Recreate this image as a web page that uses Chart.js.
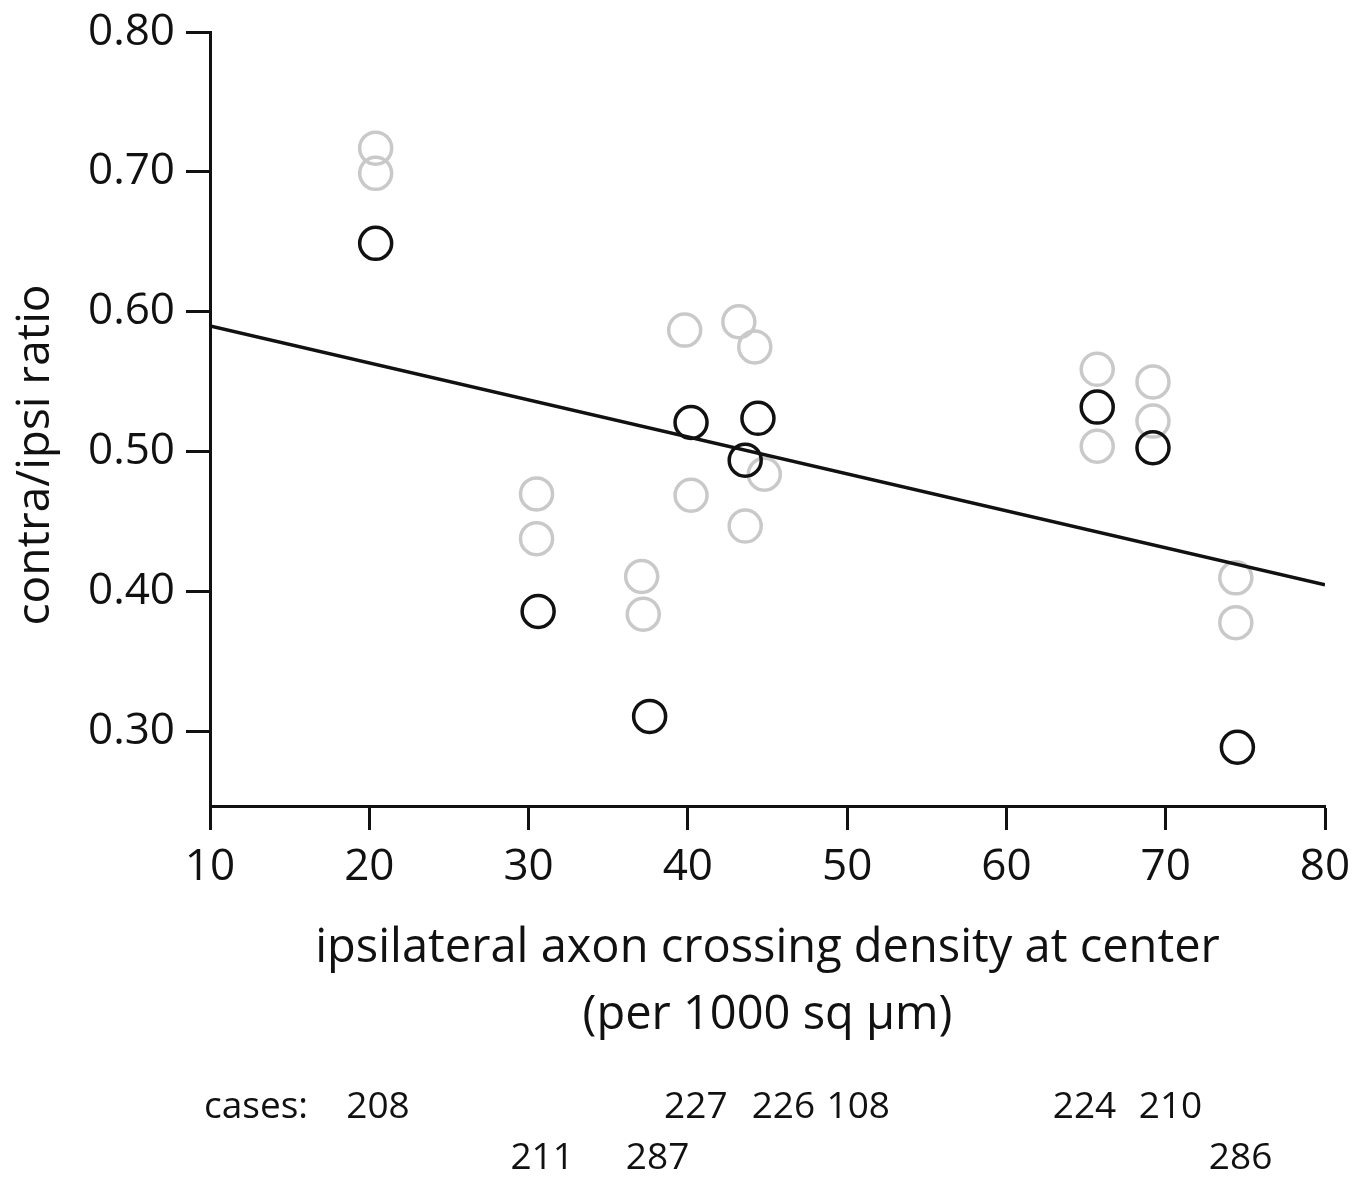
<!DOCTYPE html>
<html>
<head>
<meta charset="utf-8">
<script src="https://cdn.jsdelivr.net/npm/chart.js@4.4.1/dist/chart.umd.min.js"></script>
<style>
  html, body { margin: 0; padding: 0; background: #fff; }
  #wrap { width: 1364px; height: 1180px; }
</style>
</head>
<body>
<div id="wrap"><canvas id="plot" width="1364" height="1180"></canvas></div>
<script>
// values
const xTicks = [10, 20, 30, 40, 50, 60, 70, 80];
const yTicks = [0.30, 0.40, 0.50, 0.60, 0.70, 0.80];

// black circles
const blackX = [20.4, 30.6, 37.6, 40.2, 44.4, 43.6, 65.7, 69.2, 74.5];
const blackY = [0.649, 0.386, 0.311, 0.521, 0.524, 0.494, 0.532, 0.503, 0.289];

// gray circles
const grayX = [20.4, 20.4, 30.5, 30.5, 37.1, 37.2, 39.8, 43.2, 44.2, 44.8, 40.2, 43.6, 65.7, 65.7, 69.2, 69.2, 74.4, 74.4];
const grayY = [0.717, 0.699, 0.470, 0.438, 0.411, 0.384, 0.587, 0.593, 0.575, 0.484, 0.469, 0.447, 0.559, 0.504, 0.550, 0.522, 0.410, 0.378];

// regression line end points
const fitX = [10, 80];
const fitY = [0.590, 0.405];

// case numbers under the axis (two rows)
const caseRow1 = ['208', '227', '226', '108', '224', '210'];
const caseRow1X = [20.55, 40.5, 46.0, 50.7, 64.9, 70.3];
const caseRow2 = ['211', '287', '286'];
const caseRow2X = [30.85, 38.1, 74.7];

const FONT = "'Open Sans', 'DejaVu Sans', sans-serif";
const INK = '#111';

function toPoints(xs, ys) {
    return xs.map((x, i) => ({ x: x, y: ys[i] }));
}

//labels that chart.js does not place for us
const extraText = {
    id: 'extraText',
    afterDraw(chart) {
        const ctx = chart.ctx;
        const xs = chart.scales.x;
        const area = chart.chartArea;
        ctx.save();
        ctx.fillStyle = INK;
        // y axis title
        ctx.font = '46px ' + FONT;
        ctx.textAlign = 'center';
        ctx.textBaseline = 'middle';
        ctx.translate(36, 455);
        ctx.rotate(-Math.PI / 2);
        ctx.fillText('contra/ipsi ratio', 0, 0);
        ctx.setTransform(1, 0, 0, 1, 0, 0);
        // case numbers
        ctx.font = '37px ' + FONT;
        ctx.textAlign = 'left';
        ctx.fillText('cases:', area.left - 6, 1107);
        ctx.textAlign = 'center';
        caseRow1.forEach((t, i) => ctx.fillText(t, xs.getPixelForValue(caseRow1X[i]), 1107));
        caseRow2.forEach((t, i) => ctx.fillText(t, xs.getPixelForValue(caseRow2X[i]), 1158));
        ctx.restore();
    }
};

const ctx = document.getElementById('plot').getContext('2d');
const chart = new Chart(ctx, {
    type: 'scatter',
    data: {
        datasets: [
            {
                type: 'line',
                data: toPoints(fitX, fitY),
                borderColor: INK,
                borderWidth: 3.5,
                pointRadius: 0,
                fill: false
            },
            {
                data: toPoints(blackX, blackY),
                pointRadius: 16,
                pointBorderWidth: 3.5,
                borderColor: INK,
                backgroundColor: 'rgba(0,0,0,0)'
            },
            {
                data: toPoints(grayX, grayY),
                pointRadius: 16,
                pointBorderWidth: 3.5,
                borderColor: '#c9c9c9',
                backgroundColor: 'rgba(0,0,0,0)'
            }
        ]
    },
    options: {
        responsive: false,
        animation: false,
        layout: { padding: { top: 32, right: 39, bottom: 0, left: 0 } },
        plugins: {
            legend: { display: false },
            tooltip: { enabled: false }
        },
        scales: {
            x: {
                type: 'linear',
                min: 10,
                max: 80,
                afterFit: s => { s.height = 374; },
                afterBuildTicks: s => { s.ticks = xTicks.map(v => ({ value: v })); },
                border: { color: INK, width: 3 },
                grid: { drawOnChartArea: false, tickLength: 24, tickWidth: 3, color: INK },
                ticks: { color: INK, padding: 11, font: { family: FONT, size: 44 }, maxRotation: 0 },
                title: {
                    display: true,
                    text: ['ipsilateral axon crossing density at center', '(per 1000 sq \u00b5m)'],
                    color: INK,
                    font: { family: FONT, size: 47, lineHeight: 67 / 47 },
                    padding: { top: 0, bottom: 131 }
                }
            },
            y: {
                type: 'linear',
                min: 0.247,
                max: 0.80,
                afterFit: s => { s.width = 210; },
                afterBuildTicks: s => { s.ticks = yTicks.map(v => ({ value: v })); },
                border: { color: INK, width: 3 },
                grid: { drawOnChartArea: false, tickLength: 24, tickWidth: 3, color: INK },
                ticks: {
                    color: INK,
                    padding: 11,
                    font: { family: FONT, size: 44, lineHeight: 0.9 },
                    callback: v => v.toFixed(2)
                }
            }
        }
    },
    plugins: [extraText]
});
</script>
</body>
</html>
